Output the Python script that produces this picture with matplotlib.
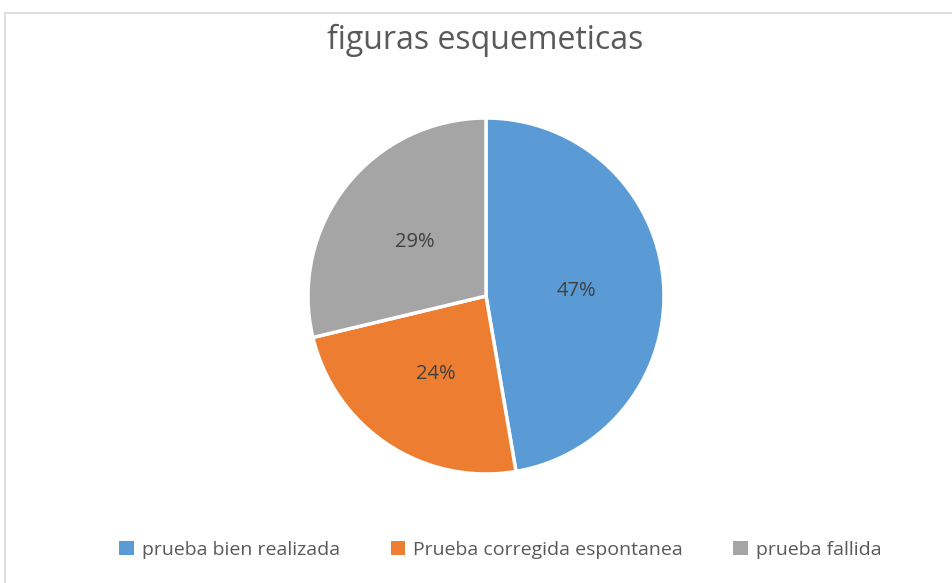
import matplotlib
matplotlib.use("Agg")
from matplotlib import pyplot
from matplotlib.lines import Line2D

FONT = "Open Sans"
TEXT_COLOR = "#595959"

categories = ["prueba bien realizada", "Prueba corregida espontanea", "prueba fallida"]
values = [79, 40, 48]
colors = ["#5B9BD5", "#ED7D31", "#A5A5A5"]

W, H = 953, 583
fig = pyplot.figure(figsize=(W / 100, H / 100), dpi=100)

# pie centre and radius in pixels
cx, cy, r = 486, 296, 178
ax = fig.add_axes([(cx - r) / W, (H - cy - r) / H, 2 * r / W, 2 * r / H])

wedges, texts, autotexts = ax.pie(
    values,
    colors=colors,
    startangle=90,
    counterclock=False,
    autopct="%.0f%%",
    pctdistance=0.51,
    wedgeprops=dict(edgecolor="white", linewidth=2.5),
    textprops=dict(fontsize=14.5, color="#404040", family=FONT),
)
for t in autotexts:
    t.set_va("center_baseline")
ax.set_xlim(-1, 1)
ax.set_ylim(-1, 1)
ax.set_aspect("equal")

fig.text(0.509, 1 - 40 / H, "figuras esquemeticas", ha="center", va="center",
         fontsize=23, color=TEXT_COLOR, family=FONT)

# light frame on top and left
fig.add_artist(Line2D([5 / W, 1], [1 - 13 / H, 1 - 13 / H], color="#D9D9D9", lw=1.2))
fig.add_artist(Line2D([5 / W, 5 / W], [0, 1 - 13 / H], color="#D9D9D9", lw=1.2))

legend = fig.legend(
    wedges,
    categories,
    loc="center",
    bbox_to_anchor=(0.525, 1 - 550 / H),
    ncol=3,
    frameon=False,
    handlelength=0.75,
    handleheight=0.75,
    handletextpad=0.4,
    columnspacing=2.6,
    prop=dict(family=FONT, size=14),
    labelcolor=TEXT_COLOR,
)
for h in legend.legend_handles:
    h.set_edgecolor("none")

fig.savefig("out.png", dpi=100)
